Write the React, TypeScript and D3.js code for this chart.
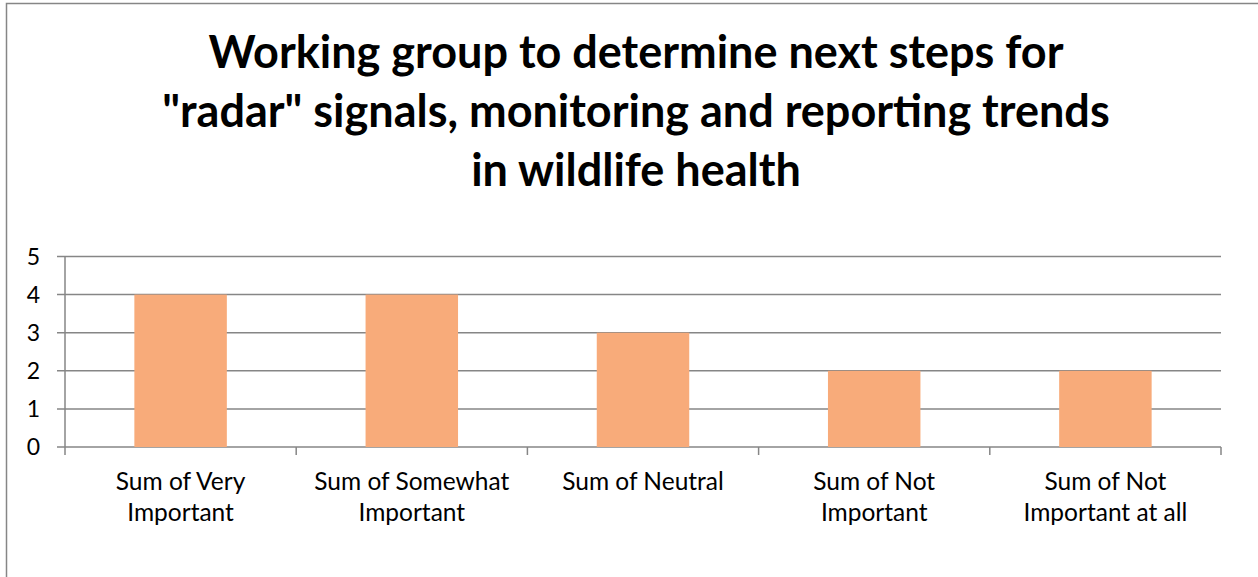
import React from "react";
import * as d3 from "d3";

const titleLines = [
  "Working group to determine next steps for",
  "\"radar\" signals, monitoring and reporting trends",
  "in wildlife health",
];
const categories = [
  ["Sum of Very", "Important"],
  ["Sum of Somewhat", "Important"],
  ["Sum of Neutral"],
  ["Sum of Not", "Important"],
  ["Sum of Not", "Important at all"],
];
const values = [4, 4, 3, 2, 2];
const yTicks = [0, 1, 2, 3, 4, 5];

const W = 1258;
const H = 577;
const FONT = "Lato, 'Open Sans', sans-serif";

export default function App() {
  const left = 65;
  const right = 1221;
  const top = 256.5;
  const bottom = 447;
  const keys = categories.map((_, i) => String(i));
  const x = d3.scaleBand<string>().domain(keys).range([left, right]).padding(0);
  const y = d3.scaleLinear().domain([0, 5]).range([bottom, top]);
  const barW = x.bandwidth() * 0.4;
  const grid = "#868686";

  return (
    <svg
      width={W}
      height={H}
      style={{ position: "absolute", left: 0, top: 0, background: "#fff" }}
    >
      <rect x={6.5} y={3.5} width={W + 10} height={H + 10} fill="#fff" stroke={grid} strokeWidth={1.5} />
      <g fontFamily={FONT} fontWeight={700} fontSize={45} textAnchor="middle" fill="#000">
        {titleLines.map((t, i) => (
          <text key={i} x={636} y={68 + i * 59}>
            {t}
          </text>
        ))}
      </g>
      {yTicks.map((t) => (
        <g key={t}>
          <line x1={57} x2={right} y1={y(t)} y2={y(t)} stroke={grid} strokeWidth={1.5} />
          <text x={40} y={y(t)} dy="0.36em" textAnchor="end" fontFamily={FONT} fontSize={23} fill="#000">
            {t}
          </text>
        </g>
      ))}
      <line x1={left} x2={left} y1={top} y2={bottom + 8} stroke={grid} strokeWidth={1.5} />
      {keys.map((k) => (
        <line key={k} x1={(x(k) as number) + x.bandwidth()} x2={(x(k) as number) + x.bandwidth()} y1={bottom} y2={bottom + 8} stroke={grid} strokeWidth={1.5} />
      ))}
      {values.map((v, i) => {
        const cx = (x(keys[i]) as number) + x.bandwidth() / 2;
        return (
          <rect key={i} x={cx - barW / 2} y={y(v)} width={barW} height={y(0) - y(v)} fill="#F8AB7A" />
        );
      })}
      {categories.map((lines, i) => {
        const cx = (x(keys[i]) as number) + x.bandwidth() / 2;
        return (
          <text key={i} x={cx} textAnchor="middle" fontFamily={FONT} fontSize={24.5} fill="#000">
            {lines.map((l, j) => (
              <tspan key={j} x={cx} y={490 + j * 31}>
                {l}
              </tspan>
            ))}
          </text>
        );
      })}
    </svg>
  );
}
